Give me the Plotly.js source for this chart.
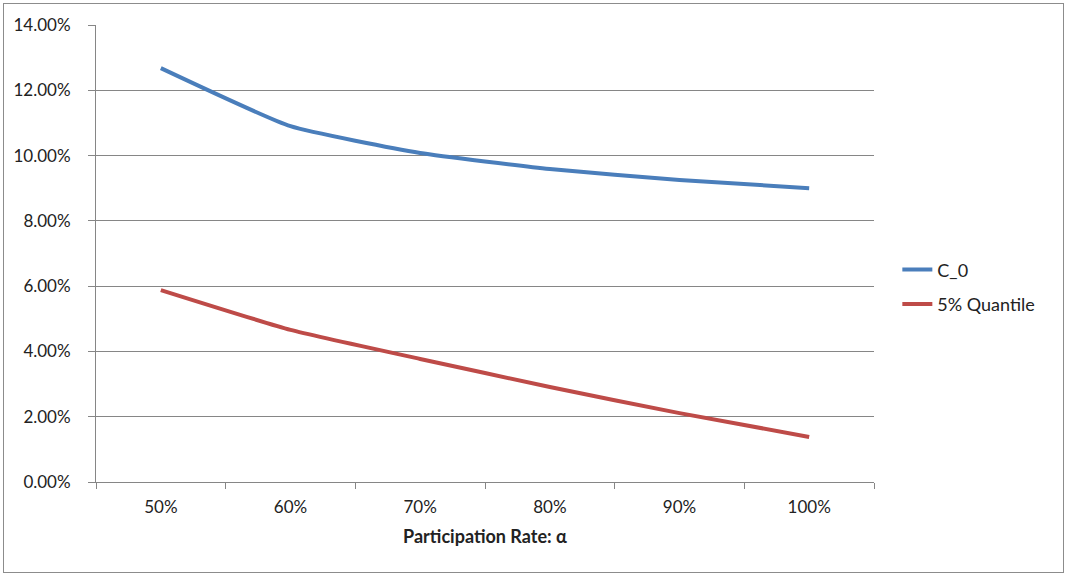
<!DOCTYPE html>
<html>
<head>
<meta charset="utf-8">
<script src="https://cdn.plot.ly/plotly-3.0.1.min.js"></script>
<style>
html,body{margin:0;padding:0;background:#fff;}
#wrap{position:relative;width:1067px;height:575px;}
#chart{position:absolute;left:0;top:0;width:1067px;height:575px;}
#frame{position:absolute;left:3px;top:3px;width:1059px;height:568px;border:1px solid #8c8c8c;pointer-events:none;}
</style>
</head>
<body>
<div id="wrap"><div id="chart"></div><div id="frame"></div></div>
<script>
const categories = ["50%", "60%", "70%", "80%", "90%", "100%"];
const c0 = [0.1268, 0.1090, 0.1008, 0.0959, 0.0925, 0.0900];
const q5 = [0.0588, 0.0466, 0.0377, 0.0291, 0.0211, 0.0138];
const yTicks = [0, 0.02, 0.04, 0.06, 0.08, 0.10, 0.12, 0.14];

const font = "Lato, 'Open Sans', sans-serif";
const traces = [
  {x: categories, y: c0, name: "C_0", legendgroup: "a", type: "scatter", mode: "lines",
   line: {color: "#4A7EBB", width: 4, shape: "spline", smoothing: 0.45}},
  {x: categories, y: q5, name: "5% Quantile", legendgroup: "b", type: "scatter", mode: "lines",
   line: {color: "#BE4B48", width: 4, shape: "spline", smoothing: 0.45}}
];
const layout = {
  width: 1067, height: 575,
  margin: {l: 96, r: 193, t: 25, b: 93},
  paper_bgcolor: "#fff", plot_bgcolor: "#fff",
  font: {family: font, size: 17, color: "#222"},
  showlegend: true,
  legend: {x: 1.03, y: 0.427, xanchor: "left", yanchor: "middle",
           font: {family: font, size: 18, color: "#222"}, tracegroupgap: 8},
  xaxis: {type: "category", range: [-0.5, 5.5], tickson: "boundaries",
          ticks: "outside", ticklen: 6, tickcolor: "#868686",
          showline: true, linecolor: "#868686", linewidth: 1,
          showgrid: false, zeroline: false, fixedrange: true,
          ticklabelstandoff: 10,
          tickfont: {family: font, size: 17, color: "#222"},
          title: {text: "<b>Participation Rate: α</b>", standoff: 13,
                  font: {family: font, size: 18, color: "#222"}}},
  yaxis: {range: [0, 0.14], tickvals: yTicks, tickformat: ".2%",
          ticks: "outside", ticklen: 7, tickcolor: "#868686",
          showline: true, linecolor: "#868686", linewidth: 1,
          showgrid: true, gridcolor: "#868686", gridwidth: 1,
          zeroline: false, fixedrange: true, ticklabelstandoff: 14,
          tickfont: {family: font, size: 17, color: "#222"}}
};
Plotly.newPlot("chart", traces, layout, {displayModeBar: false, staticPlot: true});
</script>
</body>
</html>
